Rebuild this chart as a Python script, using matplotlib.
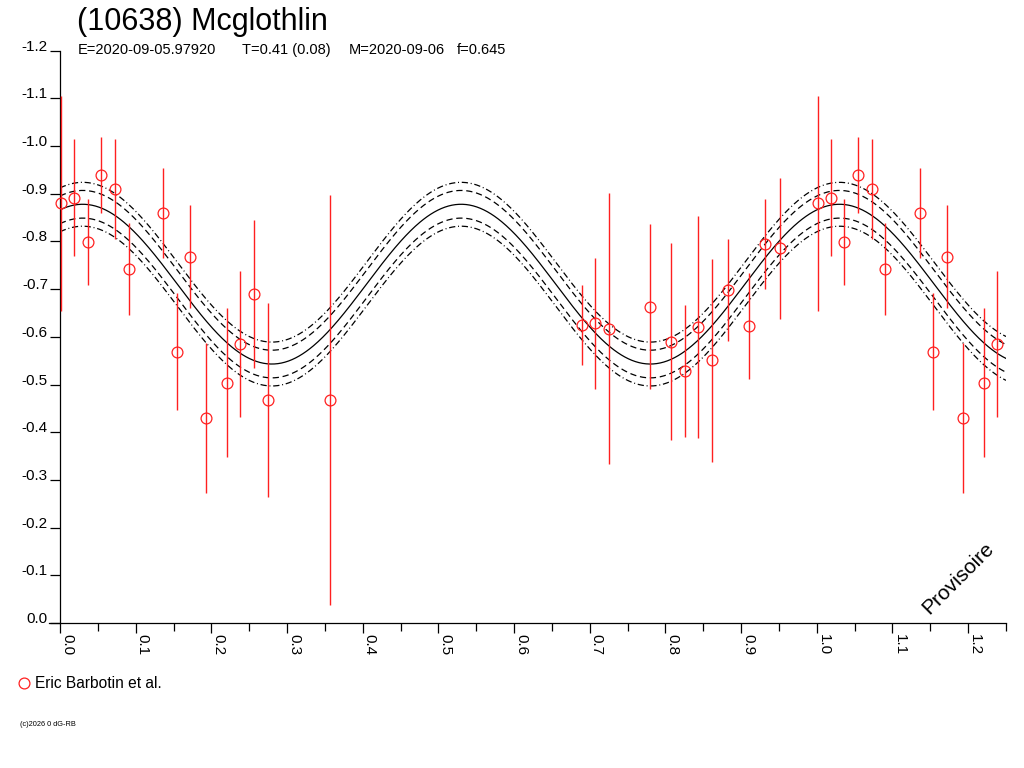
import numpy as np
import matplotlib
matplotlib.use('Agg')
import matplotlib.pyplot as plt
from matplotlib.lines import Line2D
from matplotlib.ticker import FixedLocator, MultipleLocator

plt.rcParams['font.family'] = ['Liberation Sans', 'DejaVu Sans']

# ---- texts ----
title = "(10638) Mcglothlin"
info = ["E=2020-09-05.97920", "T=0.41 (0.08)", "M=2020-09-06", "f=0.645"]
observer = "Eric Barbotin et al."
credit = "(c)2026 0 dG-RB"
stamp = "Provisoire"

# ---- data (phase, relative magnitude, error) ----
phase = [0.001, 0.019, 0.0365, 0.0545, 0.0726, 0.0906, 0.136, 0.154, 0.1724,
         0.193, 0.2207, 0.238, 0.2563, 0.2744, 0.3566,
         0.6904, 0.7075, 0.726, 0.780, 0.808, 0.826, 0.8434, 0.862, 0.8826,
         0.910, 0.931, 0.9516]
mag = [-0.880, -0.892, -0.798, -0.939, -0.910, -0.742, -0.860, -0.569, -0.768,
       -0.430, -0.504, -0.585, -0.690, -0.468, -0.468,
       -0.625, -0.628, -0.617, -0.663, -0.590, -0.528, -0.620, -0.551, -0.699,
       -0.622, -0.794, -0.786]
err = [0.225, 0.122, 0.090, 0.080, 0.104, 0.097, 0.095, 0.123, 0.108,
       0.158, 0.156, 0.154, 0.155, 0.204, 0.430,
       0.083, 0.138, 0.284, 0.173, 0.206, 0.139, 0.233, 0.213, 0.107,
       0.111, 0.094, 0.148]

# ---- fitted model ----
fit_mean = -0.7105
fit_amp = -0.1675
fit_phase0 = 0.030
fit_harm = 2
band_inner = 0.029
band_outer = 0.046

x_max = 1.25
y_ticks = [-1.2, -1.1, -1.0, -0.9, -0.8, -0.7, -0.6, -0.5, -0.4, -0.3, -0.2, -0.1, 0.0]
x_ticks = [0.0, 0.1, 0.2, 0.3, 0.4, 0.5, 0.6, 0.7, 0.8, 0.9, 1.0, 1.1, 1.2]

W, H = 1024, 768
fig = plt.figure(figsize=(W / 100, H / 100), dpi=100)
def fx(px): return px / W
def fy(py): return 1 - py / H

ax = fig.add_axes([fx(60), fy(623), fx(1006) - fx(60), fy(50.7) - fy(623)])

# model curves
xs = np.linspace(0, x_max, 800)
model = fit_mean + fit_amp * np.cos(2 * np.pi * fit_harm * (xs - fit_phase0))
ax.plot(xs, model, color='black', lw=0.9)
for s in (-1, 1):
    ax.plot(xs, model + s * band_inner, color='black', lw=0.9, ls=(0, (5, 3)))
    ax.plot(xs, model + s * band_outer, color='black', lw=0.9, ls=(0, (5, 2.2, 0.8, 2.2)))

# folded data (points repeated one cycle later within the axis range)
px = list(phase) + [p + 1 for p in phase if p + 1 <= x_max]
pm = list(mag) + [m for p, m in zip(phase, mag) if p + 1 <= x_max]
pe = list(err) + [e for p, e in zip(phase, err) if p + 1 <= x_max]
red = '#ff2020'
ax.errorbar(px, pm, yerr=pe, fmt='none', ecolor=red, elinewidth=1.0, capsize=0, zorder=3)
ax.plot(px, pm, 'o', mfc='none', mec=red, ms=7.8, mew=0.9, zorder=4, clip_on=False)

ax.set_xlim(0, x_max)
ax.set_ylim(0, -1.2)

for sp in ('top', 'right'):
    ax.spines[sp].set_visible(False)
for sp in ('left', 'bottom'):
    ax.spines[sp].set_linewidth(0.9)
ax.spines['bottom'].set_bounds(-11 / 757, x_max)

ax.yaxis.set_major_locator(FixedLocator(y_ticks))
ax.set_yticklabels(["0.0" if v == 0 else "%.1f" % v for v in y_ticks])
ax.xaxis.set_major_locator(FixedLocator(x_ticks))
ax.xaxis.set_minor_locator(MultipleLocator(0.05))
ax.set_xticklabels(["%.1f" % v for v in x_ticks])

ax.tick_params(axis='y', direction='out', length=7.2, width=0.9, pad=1.5, labelsize=11)
ax.tick_params(axis='x', which='major', direction='out', length=7.2, width=0.9, pad=1, labelsize=11)
ax.tick_params(axis='x', which='minor', direction='out', length=6, width=0.9)
for lbl in ax.get_yticklabels():
    lbl.set_va('baseline')
for lbl in ax.get_xticklabels():
    lbl.set_rotation(-90)
    lbl.set_ha('left')
    lbl.set_va('top')

# stamp
fig.text(fx(958), fy(578), stamp, rotation=45, fontsize=15, ha='center', va='center')

# header
fig.text(fx(77), fy(30), title, fontsize=22, ha='left', va='baseline')
for txt, xp in zip(info, [78, 242, 349, 457]):
    fig.text(fx(xp), fy(54), txt, fontsize=10.5, ha='left', va='baseline')

# legend
fig.add_artist(Line2D([fx(24)], [fy(683)], marker='o', mfc='none', mec=red, ms=7.8, mew=0.9, ls='none'))
fig.text(fx(35), fy(683), observer, fontsize=11.2, ha='left', va='center')

# credit
fig.text(fx(20), fy(725), credit, fontsize=5.3, ha='left', va='center')

fig.savefig('out.png', dpi=100)
